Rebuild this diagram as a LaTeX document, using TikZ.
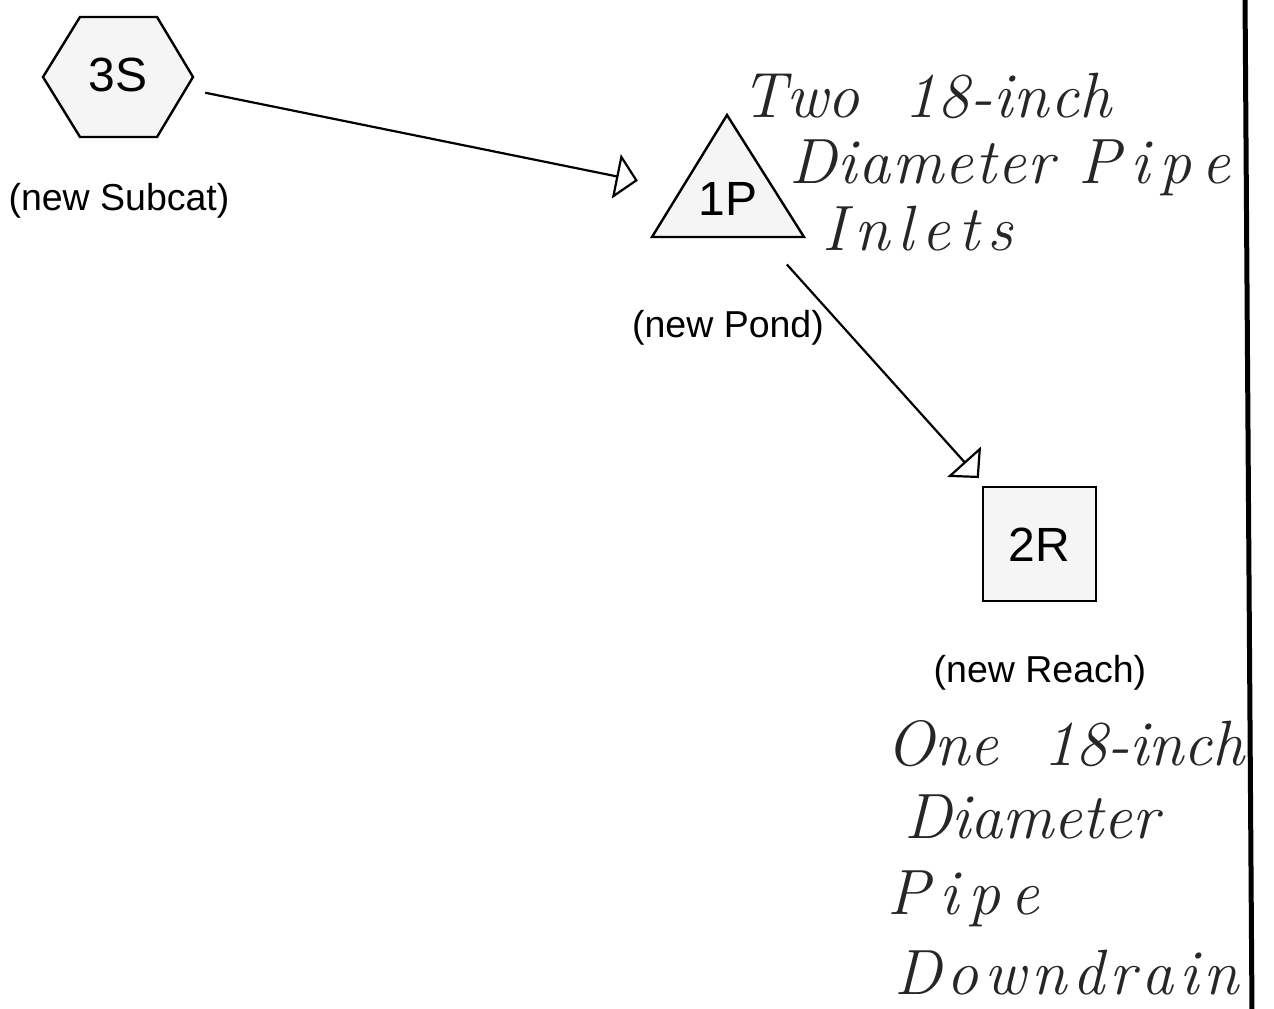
\documentclass[tikz,border=0pt]{standalone}
\usepackage{fontspec}
\newfontfamily\arial{Liberation Sans}
\usetikzlibrary{arrows.meta}
\tikzset{
  shapebox/.style={draw=black, line width=2.4pt, fill=black!4, line join=miter},
  idtext/.style={inner sep=0pt, font=\arial\fontsize{48}{50}\selectfont},
  captext/.style={inner sep=0pt, font=\arial\fontsize{37.5}{40}\selectfont},
  handtext/.style={inner sep=0pt, anchor=base west, text=black!85, font=\itshape\fontsize{64}{68}\selectfont},
  flow/.style={draw=black, line width=2.2pt, -{Triangle[open, length=22pt, width=45pt]}},
}
\makeatletter
\newcommand{\spaced}[2]{\def\sp@k{#1}\@tfor\sp@c:=#2\do{\sp@c\kern\sp@k}\unkern}
\makeatother
\begin{document}
\begin{tikzpicture}[x=1pt, y=-1pt]
\useasboundingbox (0,0) rectangle (1274,1009);
\fill[white] (0,0) rectangle (1274,1009);
% shapes
\path[shapebox] (43,77) -- (80,17) -- (157,17) -- (193,77) -- (157,137) -- (80,137) -- cycle;
\path[shapebox] (727,115) -- (804,237) -- (652,237) -- cycle;
\path[shapebox] (983,487) rectangle (1096,601);
% id texts
\node[idtext] (s3) at (118,75) {3S};
\node[idtext] (p1) at (728,199) {1P};
\node[idtext] (r2) at (1039,545) {2R};
% captions
\node[captext] (s3cap) at (119,201) {(new Subcat)};
\node[captext] (p1cap) at (728,328) {(new Pond)};
\node[captext] (r2cap) at (1040,673) {(new Reach)};
% connectors
\draw[flow, shorten <=89pt, shorten >=92pt] (s3.center) -- (p1.center);
\draw[flow, shorten <=88pt, shorten >=90pt] (p1.center) -- (r2.center);
% right border
\draw[line width=5pt] (1245,-5) -- (1252,1014);
% handwriting
\node[handtext] (h1) at (741,117) {Two\ \ \spaced{1pt}{18-inch}};
\node[handtext] (h2) at (789,183) {\spaced{1.5pt}{Diameter}\hspace{24pt}\spaced{10pt}{Pipe}};
\node[handtext] (h3) at (822,250) {\spaced{8pt}{Inlets}};
\node[handtext] (h4) at (886,765) {One\ \ 18-inch};
\node[handtext] (h5) at (904,838) {Diameter};
\node[handtext] (h6) at (887,914) {\spaced{10pt}{Pipe}};
\node[handtext] (h7) at (894,994) {\spaced{5.5pt}{Downdrain}};
\end{tikzpicture}
\end{document}
